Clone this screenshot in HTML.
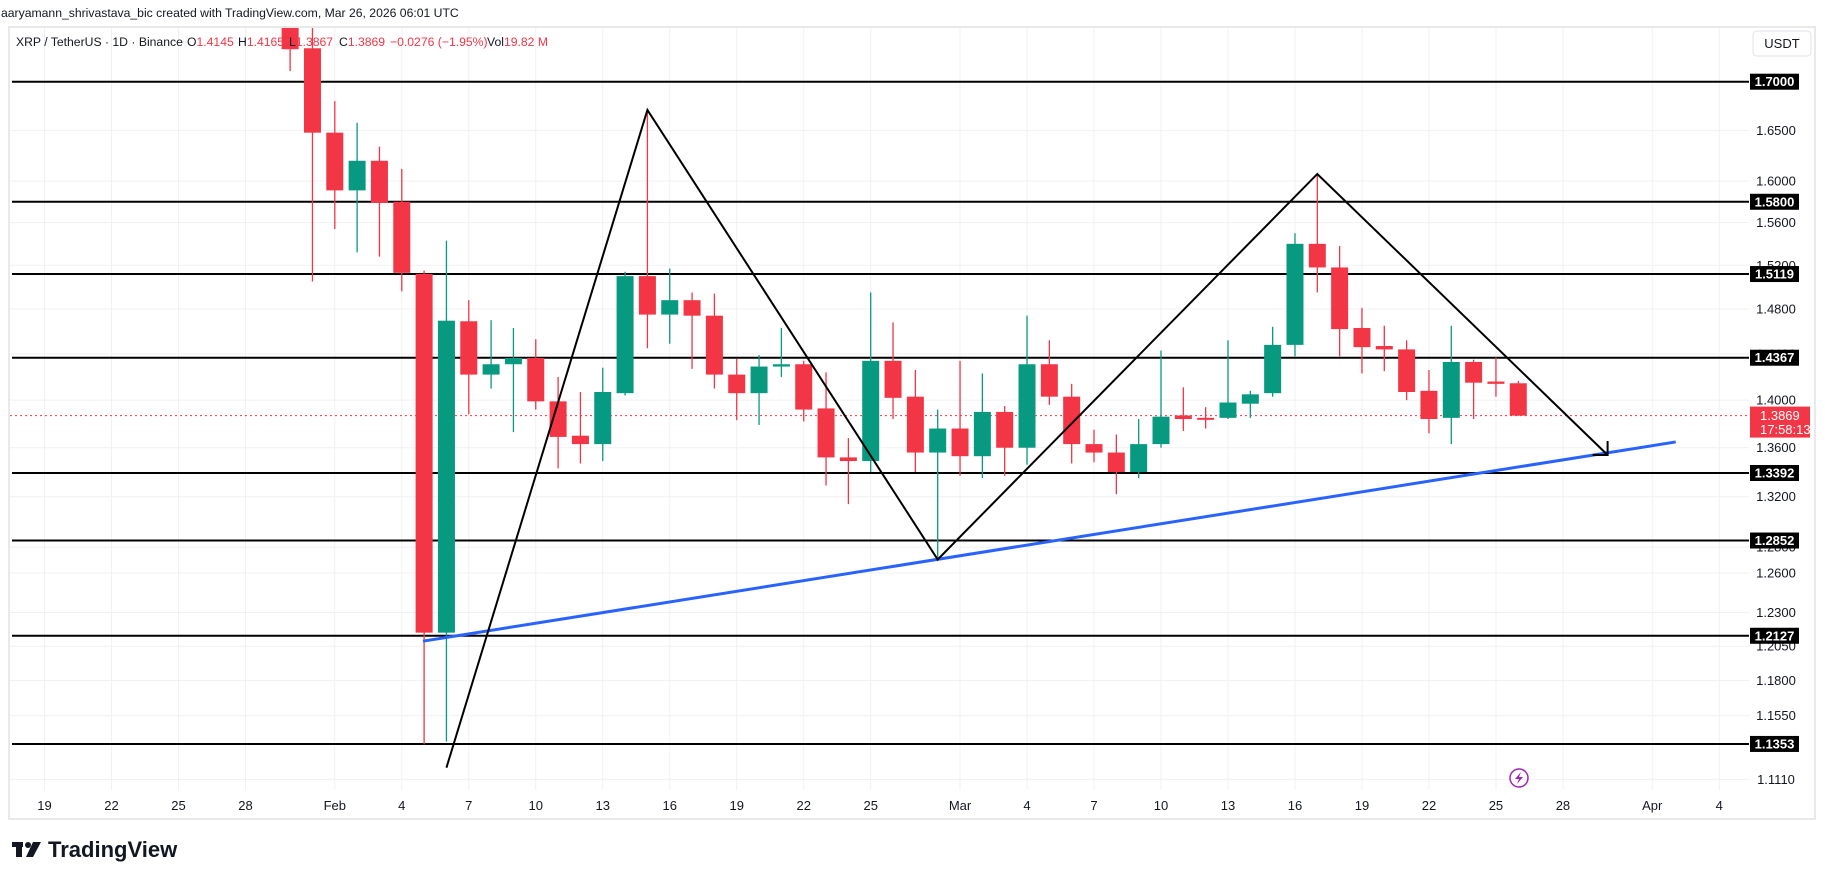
<!DOCTYPE html>
<html><head><meta charset="utf-8"><style>
html,body{margin:0;padding:0;background:#fff;width:1825px;height:879px;overflow:hidden;font-family:"Liberation Sans",sans-serif}
svg{display:block}
</style></head><body>
<svg id="chart" width="1825" height="879" xmlns="http://www.w3.org/2000/svg" font-family="Liberation Sans, sans-serif">
<defs><clipPath id="plotclip"><rect x="9" y="28" width="1741" height="762"/></clipPath></defs>
<rect x="9" y="27" width="1806" height="792" fill="#fff" stroke="#e9e9ec" stroke-width="2"/>
<g id="grid"></g>
<g id="levels"></g>
<g id="candles" clip-path="url(#plotclip)"></g>
<g id="draw"></g>
<g id="axis"></g>
<g id="taxis"></g>
<text x="1" y="17" font-size="12.2" fill="#131722">aaryamann_shrivastava_bic created with TradingView.com, Mar 26, 2026 06:01 UTC</text>
<g font-size="12.2" fill="#131722">
<text x="16" y="46">XRP / TetherUS · 1D · Binance</text>
<text x="187" y="46">O<tspan fill="#f23645">1.4145</tspan></text>
<text x="238" y="46">H<tspan fill="#f23645">1.4165</tspan></text>
<text x="289" y="46">L<tspan fill="#f23645">1.3867</tspan></text>
<text x="339" y="46">C<tspan fill="#f23645">1.3869</tspan></text>
<text x="390" y="46" fill="#f23645">−0.0276 (−1.95%)</text>
<text x="487" y="46">Vol<tspan fill="#f23645">19.82 M</tspan></text>
</g>
<rect x="1753" y="31" width="58" height="25" rx="4" fill="#fff" stroke="#e0e3eb"/>
<text x="1782" y="48" font-size="13" fill="#131722" text-anchor="middle">USDT</text>
<g>
<rect x="12" y="842" width="11" height="5" fill="#131722"/><rect x="16" y="842" width="6" height="15" fill="#131722"/>
<circle cx="28" cy="845" r="3" fill="#131722"/><polygon points="33,842 41,842 33,857 26,857" fill="#131722"/>
<text x="48" y="857" font-size="22" font-weight="bold" fill="#131722">TradingView</text></g>
<g><circle cx="1519" cy="778" r="9" fill="none" stroke="#9c27b0" stroke-width="1.5"/><polygon points="1521,772 1515,779 1519,779 1517,784 1523,777 1519,777" fill="#9c27b0"/></g>
</svg>
<script>
const days = [11,12,13,14,15,16,17,18,19,20,21,22,23,24,25,26,27,28,29,30,31,32,33,34,35,36,37,38,39,40,41,42,43,44,45,46,47,48,49,50,51,52,53,54,55,56,57,58,59,60,61,62,63,64,65,66];
const opens = [1.7707,1.735,1.648,1.591,1.620,1.580,1.512,1.215,1.469,1.422,1.431,1.4365,1.399,1.370,1.363,1.406,1.510,1.475,1.488,1.474,1.422,1.406,1.429,1.431,1.393,1.352,1.349,1.434,1.403,1.356,1.376,1.353,1.390,1.360,1.431,1.403,1.363,1.356,1.340,1.363,1.387,1.385,1.385,1.397,1.406,1.448,1.540,1.518,1.463,1.447,1.444,1.408,1.385,1.433,1.416,1.4145];
const highs = [1.778,1.759,1.680,1.658,1.634,1.612,1.515,1.543,1.488,1.470,1.463,1.453,1.420,1.407,1.428,1.514,1.671,1.517,1.495,1.494,1.436,1.439,1.463,1.434,1.424,1.368,1.495,1.468,1.426,1.392,1.434,1.423,1.395,1.474,1.452,1.414,1.375,1.371,1.384,1.443,1.411,1.394,1.452,1.408,1.464,1.550,1.607,1.538,1.481,1.465,1.452,1.426,1.465,1.435,1.437,1.4165];
const lows = [1.711,1.505,1.554,1.532,1.528,1.496,1.135,1.137,1.388,1.410,1.373,1.392,1.343,1.347,1.349,1.404,1.445,1.449,1.427,1.410,1.383,1.379,1.420,1.382,1.329,1.314,1.340,1.384,1.340,1.2704,1.337,1.335,1.337,1.346,1.396,1.347,1.348,1.322,1.335,1.360,1.374,1.376,1.384,1.385,1.403,1.438,1.495,1.438,1.423,1.425,1.400,1.372,1.363,1.384,1.403,1.3867];
const closes = [1.734,1.648,1.591,1.620,1.579,1.513,1.215,1.4695,1.422,1.431,1.4365,1.399,1.369,1.363,1.407,1.510,1.475,1.488,1.474,1.422,1.406,1.429,1.431,1.392,1.352,1.349,1.434,1.402,1.356,1.376,1.353,1.390,1.360,1.431,1.403,1.363,1.356,1.340,1.363,1.386,1.384,1.384,1.398,1.405,1.448,1.540,1.518,1.462,1.446,1.444,1.407,1.384,1.433,1.415,1.414,1.3869];
const levelPrices = [1.7000,1.5800,1.5119,1.4367,1.3392,1.2852,1.2127,1.1353];
const tickPrices = [1.70,1.65,1.60,1.56,1.52,1.48,1.44,1.40,1.36,1.32,1.28,1.26,1.23,1.205,1.18,1.155,1.111];
const tickLabels = ["1.7000","1.6500","1.6000","1.5600","1.5200","1.4800","1.4400","1.4000","1.3600","1.3200","1.2800","1.2600","1.2300","1.2050","1.1800","1.1550","1.1110"];
const timeIdx = [0,3,6,9,13,16,19,22,25,28,31,34,37,41,44,47,50,53,56,59,62,65,68,72,75];
const timeLabels = ["19","22","25","28","Feb","4","7","10","13","16","19","22","25","Mar","4","7","10","13","16","19","22","25","28","Apr","4"];
const zigzagDays = [18,27,40,57,70];
const zigzagPrices = [1.119,1.671,1.2704,1.607,1.354];
const trendDays = [16.95,73.05];
const trendPrices = [1.2087,1.3648];
const lastPrice = 1.3869;

const NS="http://www.w3.org/2000/svg";
const X=i=>44.5+22.33*i;
const Y=p=>81.7+(Math.log(1.7)-Math.log(p))*1640.3;
const PR=1749;
function mk(tag,attrs,parent){const e=document.createElementNS(NS,tag);for(const k in attrs)e.setAttribute(k,attrs[k]);parent.appendChild(e);return e;}
const grid=document.getElementById('grid'),lv=document.getElementById('levels'),cg=document.getElementById('candles'),dr=document.getElementById('draw'),ax=document.getElementById('axis'),ta=document.getElementById('taxis');
tickPrices.forEach((p,k)=>{
  const l=mk('line',{x1:10,x2:PR,y1:Y(p),y2:Y(p),stroke:'#f0f1f3','stroke-width':1},grid);
  
  
  const t=mk('text',{x:1776,y:Y(p)+4.5,'font-size':13,fill:'#131722','text-anchor':'middle'},ax);
  t.textContent=tickLabels[k];
  
  
});
timeIdx.forEach((d,k)=>{
  const l=mk('line',{x1:X(d),x2:X(d),y1:28,y2:790,stroke:'#f0f1f3','stroke-width':1},grid);
  
  
  const t=mk('text',{x:X(d),y:810,'font-size':13,fill:'#131722','text-anchor':'middle'},ta);
  t.textContent=timeLabels[k];
  
  
});
const pl=mk('line',{x1:10,x2:PR,y1:Y(lastPrice),y2:Y(lastPrice),stroke:'#f23645','stroke-width':1,'stroke-dasharray':'2 3'},grid);


levelPrices.forEach(p=>{
  const l=mk('line',{x1:12,x2:PR,y1:Y(p),y2:Y(p),stroke:'#000','stroke-width':2},lv);
  
  
});
days.forEach((d,k)=>{
  const o=opens[k],c=closes[k],up=c>=o,col=up?'#089981':'#f23645';
  const x=X(d);
  const w=mk('line',{x1:x,x2:x,y1:Y(highs[k]),y2:Y(lows[k]),stroke:col,'stroke-width':1.3},cg);
  
  
  const t=Y(Math.max(o,c)),b=Y(Math.min(o,c));
  const r=mk('rect',{x:x-8.5,y:t,width:17,height:Math.max(2,b-t),fill:col},cg);
  
  
});
const tl=mk('line',{x1:X(trendDays[0]),y1:Y(trendPrices[0]),x2:X(trendDays[1]),y2:Y(trendPrices[1]),stroke:'#2962ff','stroke-width':3},dr);


const zz=mk('polyline',{points:zigzagDays.map((d,k)=>X(d)+','+Y(zigzagPrices[k])).join(' '),fill:'none',stroke:'#000','stroke-width':2},dr);


const ex=X(zigzagDays[4]),ey=Y(zigzagPrices[4]);
const ah=mk('polyline',{points:`${ex},${ey-14} ${ex},${ey} ${ex-15},${ey}`,fill:'none',stroke:'#000','stroke-width':2},dr);


levelPrices.forEach(p=>{
  const r=mk('rect',{x:1750,y:Y(p)-8,width:49,height:16,fill:'#000'},ax);
  
  
  const t=mk('text',{x:1774.5,y:Y(p)+4.5,'font-size':13,'font-weight':'bold',fill:'#fff','text-anchor':'middle'},ax);
  t.textContent=p.toFixed(4);
  
  
});
const ly=Y(lastPrice);
const lr=mk('rect',{x:1750,y:ly-9,width:60,height:31,fill:'#f23645'},ax);


const lt=mk('text',{x:1760,y:ly+4.5,'font-size':13,fill:'#fff'},ax);
lt.textContent=lastPrice.toFixed(4);


const ct=mk('text',{x:1760,y:ly+18.5,'font-size':13,fill:'#fff'},ax);
ct.textContent='17:58:13';


</script>
</body></html>
